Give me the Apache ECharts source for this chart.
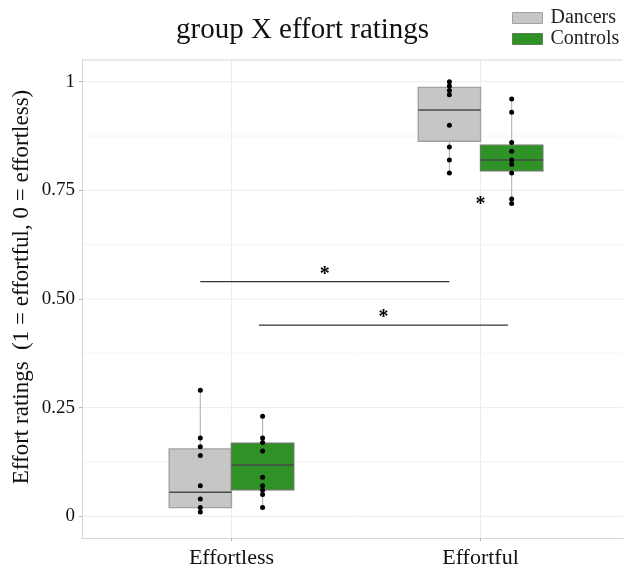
<!DOCTYPE html>
<html>
<head>
<meta charset="utf-8">
<script src="https://cdn.jsdelivr.net/npm/echarts@6/dist/echarts.min.js"></script>
<style>
  html, body { margin: 0; padding: 0; background: #fff; }
  #chart { width: 624px; height: 570px; }
</style>
</head>
<body>
<div id="chart"></div>
<script>
// Categories on the x axis (placed at positions 0 and 1)
const categories = ['Effortless', 'Effortful'];
const groups = ['Dancers', 'Controls'];

// Box statistics per category: whisker low, Q1, median, Q3, whisker high
const dancersLow    = [0.01, 0.79];
const dancersQ1     = [0.02, 0.863];
const dancersMedian = [0.055, 0.935];
const dancersQ3     = [0.155, 0.987];
const dancersHigh   = [0.29, 1.0];

const controlsLow    = [0.02, 0.72];
const controlsQ1     = [0.061, 0.795];
const controlsMedian = [0.118, 0.82];
const controlsQ3     = [0.168, 0.854];
const controlsHigh   = [0.23, 0.96];

// Individual participant ratings
const dancersPoints = [
  [0.29, 0.18, 0.16, 0.14, 0.07, 0.04, 0.02, 0.01],
  [1.0, 0.99, 0.98, 0.97, 0.90, 0.85, 0.82, 0.79]
];
const controlsPoints = [
  [0.23, 0.18, 0.17, 0.15, 0.09, 0.07, 0.06, 0.05, 0.02],
  [0.96, 0.93, 0.86, 0.84, 0.82, 0.81, 0.79, 0.73, 0.72]
];

// Significance brackets (x in category units) and asterisks
const sigStart = [-0.125, 0.11];
const sigEnd   = [0.875, 1.11];
const sigY     = [0.54, 0.44];
const starX    = [0.375, 0.61, 1.0];
const starY    = [0.567, 0.468, 0.728];

// Axis ticks
const yTicks = [0, 0.25, 0.5, 0.75, 1];
const yTickLabels = ['0', '0.25', '0.50', '0.75', '1'];
const yMinorTicks = [0.125, 0.375, 0.625, 0.875];
const xTicks = [0, 1];

// Axis extents
const X_MIN = -0.6, X_MAX = 1.572;
const Y_MIN = -0.05, Y_MAX = 1.05;

const DODGE = 0.125;
const BOX_WIDTH = 0.25;
const SERIF = '"Liberation Serif", "Times New Roman", serif';
const PANEL_BORDER = '#d6d6d6';

const groupStyle = {
  Dancers:  { fill: '#c6c6c6', border: '#a2a2a2', offset: -DODGE },
  Controls: { fill: '#2e9226', border: '#5f7d58', offset: DODGE }
};

function boxData(offset, low, q1, med, q3, high) {
  return categories.map((c, i) => [i + offset, low[i], q1[i], med[i], q3[i], high[i]]);
}

function pointData(offset, pts) {
  const out = [];
  pts.forEach((arr, i) => arr.forEach(v => out.push([i + offset, v])));
  return out;
}

function makeBoxRenderer(style) {
  return function (params, api) {
    const x = api.value(0);
    const lo = api.coord([x, api.value(1)]);
    const hi = api.coord([x, api.value(5)]);
    const tl = api.coord([x - BOX_WIDTH / 2, api.value(4)]);
    const br = api.coord([x + BOX_WIDTH / 2, api.value(2)]);
    const md = api.coord([x, api.value(3)]);
    return {
      type: 'group',
      children: [
        { type: 'line', shape: { x1: lo[0], y1: lo[1], x2: hi[0], y2: hi[1] },
          style: { stroke: '#b8b8b8', lineWidth: 1.2 } },
        { type: 'rect', shape: { x: tl[0], y: tl[1], width: br[0] - tl[0], height: br[1] - tl[1] },
          style: { fill: style.fill, stroke: style.border, lineWidth: 1.4 } },
        { type: 'line', shape: { x1: tl[0], y1: md[1], x2: br[0], y2: md[1] },
          style: { stroke: '#4a4a4a', lineWidth: 1.5 } }
      ]
    };
  };
}

// Panel background lines: horizontal gridlines (major, minor), vertical lines at categories, top border
const gridRows = [];
yTicks.forEach(v => gridRows.push(['h', v, '#ebebeb']));
yMinorTicks.forEach(v => gridRows.push(['h', v, '#f4f4f4']));
xTicks.forEach(v => gridRows.push(['v', v, '#ebebeb']));
gridRows.push(['h', Y_MAX, PANEL_BORDER]);

const series = [{
  name: 'panel grid',
  type: 'custom',
  silent: true,
  z: 0,
  data: gridRows.map((r, i) => [i]),
  renderItem: function (params, api) {
    const r = gridRows[params.dataIndex];
    let a, b;
    if (r[0] === 'h') { a = api.coord([X_MIN, r[1]]); b = api.coord([X_MAX, r[1]]); }
    else { a = api.coord([r[1], Y_MIN]); b = api.coord([r[1], Y_MAX]); }
    return { type: 'line', shape: { x1: a[0], y1: a[1], x2: b[0], y2: b[1] },
             style: { stroke: r[2], lineWidth: 1 } };
  }
}];

const stats = {
  Dancers: [dancersLow, dancersQ1, dancersMedian, dancersQ3, dancersHigh, dancersPoints],
  Controls: [controlsLow, controlsQ1, controlsMedian, controlsQ3, controlsHigh, controlsPoints]
};

groups.forEach(g => {
  const st = groupStyle[g];
  const s = stats[g];
  series.push({
    name: g,
    type: 'custom',
    renderItem: makeBoxRenderer(st),
    itemStyle: { color: st.fill, borderColor: st.border, borderWidth: 1.2 },
    encode: { x: 0, y: [1, 2, 3, 4, 5] },
    data: boxData(st.offset, s[0], s[1], s[2], s[3], s[4]),
    z: 2
  });
});
groups.forEach(g => {
  const st = groupStyle[g];
  series.push({
    name: g + ' ratings',
    type: 'scatter',
    symbolSize: 5,
    itemStyle: { color: '#000', opacity: 1 },
    data: pointData(st.offset, stats[g][5]),
    z: 3
  });
});

// significance brackets
series.push({
  name: 'brackets',
  type: 'custom',
  silent: true,
  z: 4,
  encode: { x: [0, 1], y: 2 },
  data: sigStart.map((s, i) => [s, sigEnd[i], sigY[i]]),
  renderItem: function (params, api) {
    const a = api.coord([api.value(0), api.value(2)]);
    const b = api.coord([api.value(1), api.value(2)]);
    return { type: 'line', shape: { x1: a[0], y1: a[1], x2: b[0], y2: b[1] },
             style: { stroke: '#333', lineWidth: 1.3 } };
  }
});
series.push({
  name: 'stars',
  type: 'custom',
  silent: true,
  z: 4,
  encode: { x: 0, y: 1 },
  data: starX.map((x, i) => [x, starY[i]]),
  renderItem: function (params, api) {
    const p = api.coord([api.value(0), api.value(1)]);
    return { type: 'text', x: p[0], y: p[1] + 5,
             style: { text: '*', fill: '#000', font: 'bold 20px ' + SERIF, align: 'center', verticalAlign: 'middle' } };
  }
});

const chart = echarts.init(document.getElementById('chart'), null, { renderer: 'canvas' });
chart.setOption({
  animation: false,
  backgroundColor: '#fff',
  title: {
    text: 'group X effort ratings',
    left: 171,
    top: 11,
    textStyle: { fontFamily: SERIF, fontSize: 29, fontWeight: 'normal', color: '#111' }
  },
  legend: {
    orient: 'vertical',
    left: 512,
    top: 8,
    padding: 0,
    itemWidth: 30,
    itemHeight: 11,
    itemGap: 1,
    icon: 'rect',
    textStyle: { fontFamily: SERIF, fontSize: 20, color: '#222', lineHeight: 20, padding: [0, 0, 0, 3] },
    data: groups.map(g => ({ name: g, itemStyle: { color: groupStyle[g].fill, borderColor: groupStyle[g].border, borderWidth: 1 } }))
  },
  graphic: [{
    type: 'text',
    x: 22,
    y: 287,
    rotation: Math.PI / 2,
    style: {
      text: 'Effort ratings  (1 = effortful, 0 = effortless)',
      font: '23px ' + SERIF,
      fill: '#111',
      align: 'center',
      verticalAlign: 'middle'
    }
  }],
  grid: {
    left: 82,
    top: 60,
    right: 1,
    height: 478,
    show: false
  },
  xAxis: {
    type: 'value',
    min: X_MIN,
    max: X_MAX,
    axisLine: { show: true, onZero: false, lineStyle: { color: PANEL_BORDER, width: 1 } },
    splitLine: { show: false },
    axisTick: { show: true, customValues: xTicks, length: 3, lineStyle: { color: '#b5b5b5' } },
    axisLabel: {
      customValues: xTicks,
      formatter: v => categories[Math.round(v)],
      fontFamily: SERIF, fontSize: 22, color: '#111', margin: 9
    }
  },
  yAxis: {
    type: 'value',
    min: Y_MIN,
    max: Y_MAX,
    axisLine: { show: true, onZero: false, lineStyle: { color: PANEL_BORDER, width: 1 } },
    splitLine: { show: false },
    axisTick: { show: true, customValues: yTicks, length: 3, lineStyle: { color: '#b5b5b5' } },
    axisLabel: {
      customValues: yTicks,
      formatter: v => yTickLabels[yTicks.indexOf(Math.round(v * 100) / 100)],
      fontFamily: SERIF, fontSize: 19, color: '#111', margin: 7
    }
  },
  series: series
});
</script>
</body>
</html>
